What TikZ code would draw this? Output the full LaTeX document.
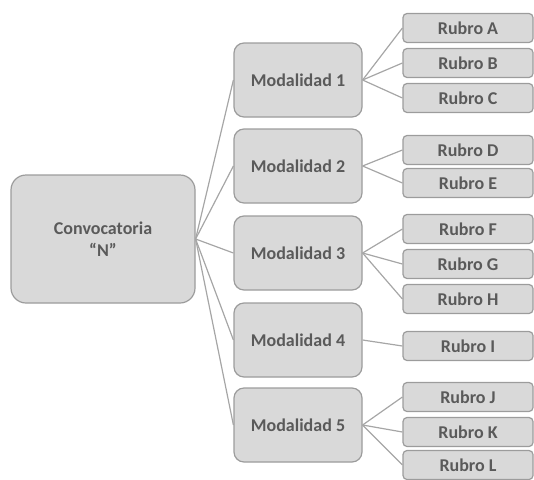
\documentclass[tikz,border=0pt]{standalone}
\usepackage{fontspec}
\setmainfont{Carlito}
\definecolor{boxfill}{HTML}{D9D9D9}
\definecolor{boxline}{HTML}{9C9C9C}
\definecolor{boxtext}{HTML}{5A5A5A}
\definecolor{linkgray}{HTML}{A6A6A6}
\tikzset{
  box/.style={draw=boxline, line width=1.2pt, fill=boxfill, text=boxtext,
    font=\fontsize{18}{22}\selectfont\bfseries, align=center, inner sep=0pt},
  conv/.style={box, rounded corners=15pt, minimum width=184pt, minimum height=128pt},
  modal/.style={box, rounded corners=10pt, minimum width=128pt, minimum height=74pt},
  rubro/.style={box, rounded corners=4pt, minimum width=130pt, minimum height=29pt},
  link/.style={draw=linkgray, line width=1.2pt}
}
\begin{document}
\begin{tikzpicture}[x=1pt, y=-1pt]
\useasboundingbox (0, 0) rectangle (534, 479);
\node[conv] (conv) at (103, 239) {Convocatoria\\``N''};
\node[modal] (m1) at (298, 80) {Modalidad 1};
\node[modal] (m2) at (298, 166) {Modalidad 2};
\node[modal] (m3) at (298, 253) {Modalidad 3};
\node[modal] (m4) at (298, 340) {Modalidad 4};
\node[modal] (m5) at (298, 425) {Modalidad 5};
\node[rubro] (ra) at (468, 28) {Rubro A};
\node[rubro] (rb) at (468, 63) {Rubro B};
\node[rubro] (rc) at (468, 98) {Rubro C};
\node[rubro] (rd) at (468, 150) {Rubro D};
\node[rubro] (re) at (468, 183) {Rubro E};
\node[rubro] (rf) at (468, 229) {Rubro F};
\node[rubro] (rg) at (468, 264) {Rubro G};
\node[rubro] (rh) at (468, 299) {Rubro H};
\node[rubro] (ri) at (468, 346) {Rubro I};
\node[rubro] (rj) at (468, 397) {Rubro J};
\node[rubro] (rk) at (468, 432) {Rubro K};
\node[rubro] (rl) at (468, 465) {Rubro L};
\draw[link] (conv.east) -- (m1.west);
\draw[link] (conv.east) -- (m2.west);
\draw[link] (conv.east) -- (m3.west);
\draw[link] (conv.east) -- (m4.west);
\draw[link] (conv.east) -- (m5.west);
\draw[link] (m1.east) -- (ra.west);
\draw[link] (m1.east) -- (rb.west);
\draw[link] (m1.east) -- (rc.west);
\draw[link] (m2.east) -- (rd.west);
\draw[link] (m2.east) -- (re.west);
\draw[link] (m3.east) -- (rf.west);
\draw[link] (m3.east) -- (rg.west);
\draw[link] (m3.east) -- (rh.west);
\draw[link] (m4.east) -- (ri.west);
\draw[link] (m5.east) -- (rj.west);
\draw[link] (m5.east) -- (rk.west);
\draw[link] (m5.east) -- (rl.west);
\end{tikzpicture}
\end{document}
